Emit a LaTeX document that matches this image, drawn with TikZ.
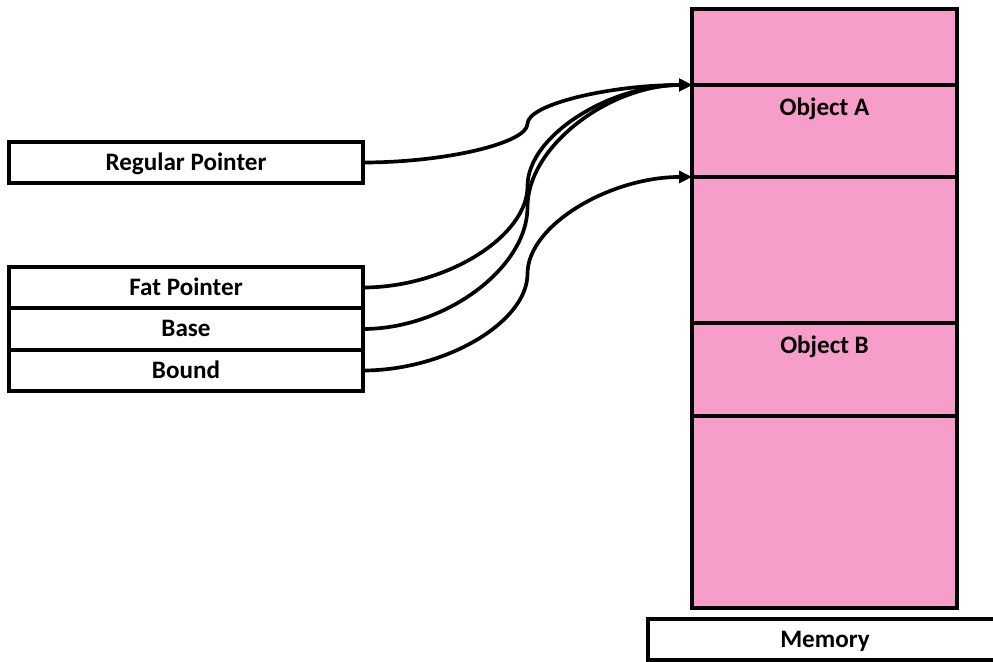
\documentclass[tikz,border=0pt]{standalone}
\usepackage{fontspec}
\setmainfont{Carlito}
\usetikzlibrary{calc,arrows.meta}
\definecolor{mempink}{RGB}{247,157,201}
\def\sconn[#1](#2)(#3){\draw[#1] let \p1=(#2), \p2=(#3) in (\p1)
	.. controls ({(3*\x1+\x2)/4},\y1) and ({(\x1+\x2)/2},{(3*\y1+\y2)/4}) .. ({(\x1+\x2)/2},{(\y1+\y2)/2})
	.. controls ({(\x1+\x2)/2},{(\y1+3*\y2)/4}) and ({(\x1+3*\x2)/4},\y2) .. (\p2);}

\begin{document}
\begin{tikzpicture}[x=0.02cm, y=-0.02cm,
	font=\bfseries\fontsize{14.3}{16}\selectfont,
	ptrbox/.style={draw, line width=2pt, minimum width=7.08cm, minimum height=0.82cm, inner sep=0pt, outer sep=0pt, text height=10pt, text depth=1pt},
	memseg/.style={draw, fill=mempink, line width=2pt, minimum width=5.3cm, inner sep=0pt, outer sep=0pt, anchor=north},
	seglabel/.style={label={[anchor=north, yshift=-0.14cm]north:#1}},
	ptrline/.style={line width=2.1pt, -{Triangle[length=0.26cm, width=0.24cm]}}]
		\useasboundingbox (0,0) rectangle (993,662);
		
		%%%%% POINTERS %%%%%
		\node[ptrbox] (regular) at (186,162.5) {Regular Pointer};
		
		\node[ptrbox] (fat) at (186,287.5) {Fat Pointer};
		\node[ptrbox] (base) at (186,329) {Base};
		\node[ptrbox] (bound) at (186,370.5) {Bound};
		
		%%%%% MEMORY %%%%%
		\node[memseg, minimum height=1.52cm] (seg1) at (824.5,9) {};
		\node[memseg, minimum height=1.84cm, seglabel=Object A] (objA) at (seg1.south) {};
		\node[memseg, minimum height=2.92cm] (seg3) at (objA.south) {};
		\node[memseg, minimum height=1.86cm, seglabel=Object B] (objB) at (seg3.south) {};
		\node[memseg, minimum height=3.84cm] (seg5) at (objB.south) {};
		
		\node[ptrbox] (memory) at (825,639.5) {Memory};
		
		%%%%% CONNECTORS %%%%%
		\sconn[ptrline](regular.east)(objA.north west)
		\sconn[ptrline](fat.east)(objA.north west)
		\sconn[ptrline](base.east)(objA.north west)
		\sconn[ptrline](bound.east)(objA.south west)
		
	\end{tikzpicture}
\end{document}
